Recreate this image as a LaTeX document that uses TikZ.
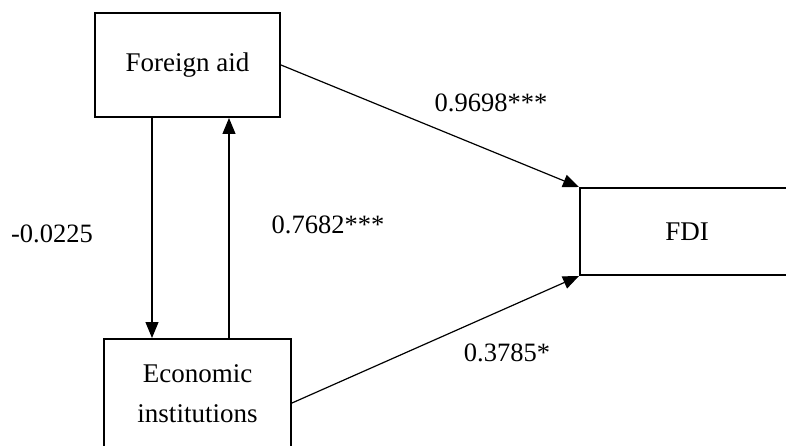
\documentclass[tikz,border=0pt]{standalone}
\usepackage{fontspec}
\setmainfont{Liberation Serif}
\usetikzlibrary{arrows.meta}
\begin{document}
\begin{tikzpicture}[x=1pt,y=-1pt,
  box/.style={draw,line width=2pt,inner sep=0pt,align=center,
    font=\fontsize{27}{40}\selectfont},
  lbl/.style={inner sep=0pt,font=\fontsize{26.5}{30}\selectfont},
  arr/.style={line width=1.2pt,-{Triangle[length=16pt,width=13pt]}}]
\useasboundingbox (0,0) rectangle (786,446);
\clip (0,0) rectangle (786,446);
\node[box,minimum width=185pt,minimum height=104pt] (fa) at (187.5,65) {Foreign aid};
\node[box,minimum width=214pt,minimum height=87pt] (fdi) at (687,231.5) {FDI};
\node[box,minimum width=187pt,minimum height=110pt] (ei) at (197.5,394) {Economic\\institutions};
\draw[arr] ([xshift=-35.5pt]fa.south) -- ([xshift=-35.5pt]fa.south |- ei.north);
\draw[arr] ([xshift=31.5pt]ei.north) -- ([xshift=31.5pt]ei.north |- fa.south);
\draw[arr] (fa.east) -- (fdi.north west);
\draw[arr] ([yshift=-9pt]ei.east) -- (fdi.south west);
\node[lbl] (l1) at (491,103) {0.9698***};
\node[lbl] (l2) at (52,234) {-0.0225};
\node[lbl] (l3) at (328,225) {0.7682***};
\node[lbl] (l4) at (507,353) {0.3785*};
\end{tikzpicture}
\end{document}
